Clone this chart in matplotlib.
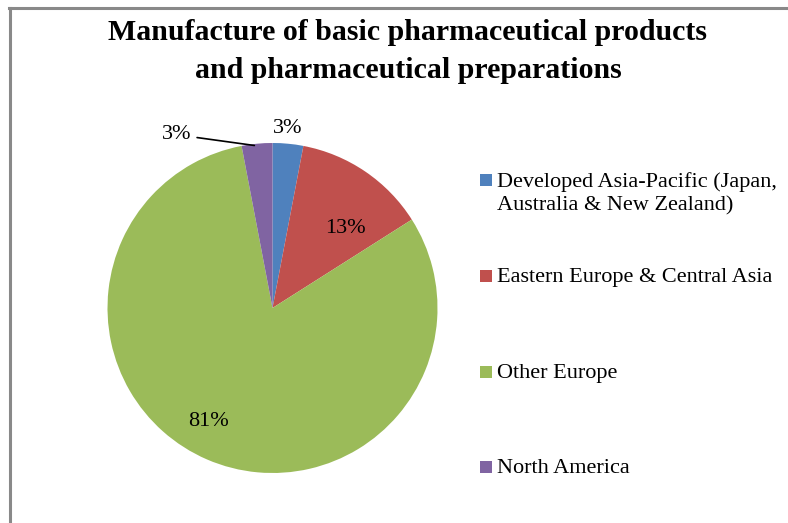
import matplotlib.pyplot as plt
from matplotlib.lines import Line2D
from matplotlib.patches import Rectangle

plt.rcParams['font.family'] = ['Liberation Serif', 'DejaVu Serif']

# data
regions = ["Developed Asia-Pacific (Japan,\nAustralia & New Zealand)",
           "Eastern Europe & Central Asia",
           "Other Europe",
           "North America"]
shares = [3, 13, 81, 3]
colours = ["#4F81BD", "#C0504D", "#9BBB59", "#8064A2"]
# label spots in pie units (radius = 1), as Excel put them
label_pos = [(0.09, 1.09), (0.44, 0.48), (-0.39, -0.69), (-0.58, 1.05)]

W, H = 788, 523
fig = plt.figure(figsize=(W / 100, H / 100), dpi=100)

# chart area border (only top and left show in the crop)
fig.add_artist(Line2D([9.5 / W, 9.5 / W], [0, 1 - 7.5 / H], transform=fig.transFigure,
                      color="#898989", lw=2.2))
fig.add_artist(Line2D([8.5 / W, 1], [1 - 8 / H, 1 - 8 / H], transform=fig.transFigure,
                      color="#898989", lw=2.2))

fig.text(408 / W, 1 - 33 / H, "Manufacture of basic pharmaceutical products",
         ha="center", va="center", fontsize=21.5, fontweight="bold")
fig.text(408 / W, 1 - 71 / H, "and pharmaceutical preparations",
         ha="center", va="center", fontsize=21.5, fontweight="bold")

# pie centre (272.5, 308) px, radius 165 px
R = 165
cx, cy = 272.5, 308
lim = 1.1
ax = fig.add_axes([(cx - R * lim) / W, (H - cy - R * lim) / H, 2 * R * lim / W, 2 * R * lim / H])
wedges, _ = ax.pie(shares, colors=colours, startangle=90, counterclock=False,
                   radius=1, wedgeprops=dict(linewidth=0))
ax.set_xlim(-lim, lim)
ax.set_ylim(-lim, lim)
ax.axis("off")

for i, (v, (x, y)) in enumerate(zip(shares, label_pos)):
    if i == 3:
        ax.annotate(f"{v}%", xy=(-0.11, 0.985), xytext=(x, y), ha="center", va="center",
                    fontsize=16, arrowprops=dict(arrowstyle="-", color="black", lw=1.2,
                                                 shrinkA=2, shrinkB=0))
    else:
        ax.text(x, y, f"{v}%", ha="center", va="center", fontsize=16)

# legend drawn by hand so the square sits on the first line like Excel does
for i, (lab, col) in enumerate(zip(regions, colours)):
    ymid = 180 + i * 95.8
    fig.add_artist(Rectangle((480 / W, 1 - (ymid + 6) / H), 12 / W, 12 / H,
                             transform=fig.transFigure, color=col, lw=0))
    fig.text(497 / W, 1 - (ymid - 8) / H, lab, ha="left", va="top", fontsize=16,
             linespacing=1.3)

fig.savefig("out.png", dpi=100)
